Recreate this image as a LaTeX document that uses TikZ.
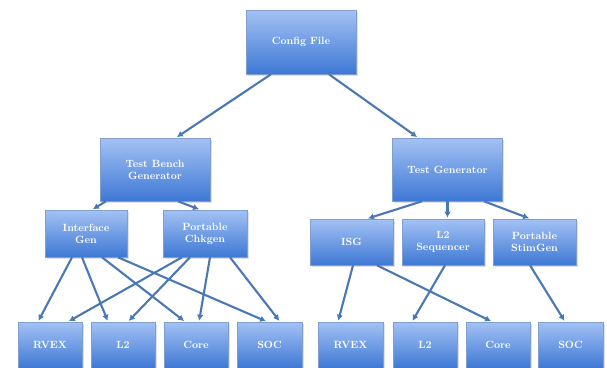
\documentclass[tikz,border=0pt]{standalone}
\usetikzlibrary{arrows.meta,shadows}
\definecolor{boxtop}{HTML}{A3C2F5}
\definecolor{boxbot}{HTML}{3E78D4}
\definecolor{edge}{HTML}{4A78B5}
\definecolor{wire}{HTML}{4A78B5}
\tikzset{
  blk/.style={draw=edge!70, line width=0.6pt, top color=boxtop, bottom color=boxbot,
    text=white, font=\fontsize{10.5}{12}\selectfont\bfseries, align=center,
    inner sep=0pt, drop shadow={shadow xshift=1.5pt, shadow yshift=-1.5pt, opacity=0.25}},
  conn/.style={draw=wire, line width=2.1pt, -{Latex[length=6pt,width=6.5pt]}, shorten >=1pt}
}
\begin{document}
\begin{tikzpicture}[x=1pt,y=-1pt]
\useasboundingbox (0,0) rectangle (607,367);
% top
\node[blk, minimum width=110pt, minimum height=64pt] (cfg) at (301,42) {Config File};
\node[blk, minimum width=110pt, minimum height=63pt] (tbg) at (155,169.5) {Test Bench\\Generator};
\node[blk, minimum width=110pt, minimum height=63pt] (tg) at (447.5,169.5) {Test Generator};
% middle
\node[blk, minimum width=82pt, minimum height=47pt] (ig) at (86,233.5) {Interface\\Gen};
\node[blk, minimum width=84pt, minimum height=47pt] (pc) at (205,233.5) {Portable\\Chkgen};
\node[blk, minimum width=83pt, minimum height=46pt] (isg) at (351.5,242) {ISG};
\node[blk, minimum width=82pt, minimum height=46pt] (l2s) at (443,242) {L2\\Sequencer};
\node[blk, minimum width=83pt, minimum height=46pt] (psg) at (534.5,242) {Portable\\StimGen};
% bottom
\node[blk, minimum width=64pt, minimum height=46pt] (rvexL) at (50,345) {RVEX};
\node[blk, minimum width=64pt, minimum height=46pt] (l2L) at (123,345) {L2};
\node[blk, minimum width=64pt, minimum height=46pt] (coreL) at (196,345) {Core};
\node[blk, minimum width=65pt, minimum height=46pt] (socL) at (269.5,345) {SOC};
\node[blk, minimum width=65pt, minimum height=46pt] (rvexR) at (350.5,345) {RVEX};
\node[blk, minimum width=64pt, minimum height=46pt] (l2R) at (425,345) {L2};
\node[blk, minimum width=64pt, minimum height=46pt] (coreR) at (498,345) {Core};
\node[blk, minimum width=65pt, minimum height=46pt] (socR) at (570.5,345) {SOC};
% connectors
\draw[conn] ([xshift=-30pt]cfg.south) -- ([xshift=21pt]tbg.north);
\draw[conn] ([xshift=28pt]cfg.south) -- ([xshift=-29.5pt]tg.north);
\draw[conn] ([xshift=-49pt]tbg.south) -- ([xshift=6pt]ig.north);
\draw[conn] ([xshift=23pt]tbg.south) -- ([xshift=-5pt]pc.north);
\draw[conn] ([xshift=-25.5pt]tg.south) -- ([xshift=15.5pt]isg.north);
\draw[conn] ([xshift=0pt]tg.south) -- ([xshift=4.5pt]l2s.north);
\draw[conn] ([xshift=36.5pt]tg.south) -- ([xshift=-4.5pt]psg.north);
\draw[conn] ([xshift=-14pt]ig.south) -- ([xshift=-12pt]rvexL.north);
\draw[conn] ([xshift=-4pt]ig.south) -- ([xshift=-15pt]l2L.north);
\draw[conn] ([xshift=16pt]ig.south) -- ([xshift=-11pt]coreL.north);
\draw[conn] ([xshift=32pt]ig.south) -- ([xshift=-2.5pt]socL.north);
\draw[conn] ([xshift=-23pt]pc.south) -- ([xshift=18pt]rvexL.north);
\draw[conn] ([xshift=-15pt]pc.south) -- ([xshift=5pt]l2L.north);
\draw[conn] ([xshift=5pt]pc.south) -- ([xshift=3pt]coreL.north);
\draw[conn] ([xshift=25pt]pc.south) -- ([xshift=10.5pt]socL.north);
\draw[conn] ([xshift=1.5pt]isg.south) -- ([xshift=-12.5pt]rvexR.north);
\draw[conn] ([xshift=25.5pt]isg.south) -- ([xshift=-6pt]coreR.north);
\draw[conn] ([xshift=2pt]l2s.south) -- ([xshift=-13pt]l2R.north);
\draw[conn] ([xshift=-4.5pt]psg.south) -- ([xshift=-5.5pt]socR.north);
\end{tikzpicture}
\end{document}
